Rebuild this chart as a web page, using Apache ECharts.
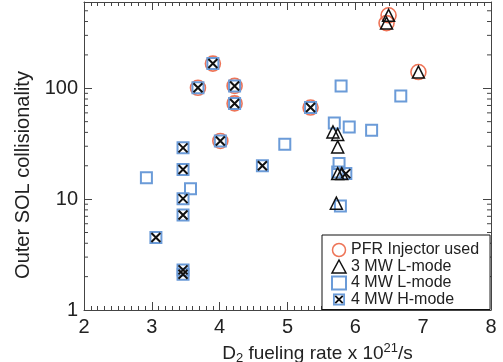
<!DOCTYPE html>
<html>
<head>
<meta charset="utf-8">
<script src="https://cdn.jsdelivr.net/npm/echarts@6/dist/echarts.min.js"></script>
<style>html,body{margin:0;padding:0;background:#fff}#c{width:503px;height:362px}</style>
</head>
<body>
<div id="c"></div>
<script>
// ---- data ----
const pfrX = [3.90, 3.68, 4.22, 4.22, 4.01, 5.34, 6.49, 6.46, 6.93];
const pfrY = [167, 101, 105, 73, 33.5, 67, 455, 387, 140];

const l3X = [6.49, 6.46, 6.93, 5.67, 5.74, 5.74, 5.74, 5.80, 5.72];
const l3Y = [455, 387, 140, 40.4, 38.3, 29.6, 17.0, 17.0, 9.2];

const l4X = [2.92, 3.57, 4.96, 5.79, 6.67, 5.69, 5.91, 6.24, 5.76, 5.74, 5.78];
const l4Y = [15.6, 12.4, 31.3, 105, 85.3, 48.7, 44.8, 41.8, 21.0, 17.6, 8.65];

const h4X = [3.90, 3.68, 4.22, 4.22, 4.01, 5.34, 3.46, 3.46, 4.63, 3.46, 3.46, 3.06, 3.46, 3.46, 5.86];
const h4Y = [167, 101, 105, 73, 33.5, 67, 29, 18.5, 20.0, 10.1, 7.2, 4.5, 2.1, 2.3, 17.0];

const xTicks = [2, 3, 4, 5, 6, 7, 8];
const yTicks = [1, 10, 100];
const yMinorTicks = [2,3,4,5,6,7,8,9,20,30,40,50,60,70,80,90,200,300,400,500];
const xMin = 2, xMax = 8, yMin = 1, yMax = 600;

const names = ['PFR Injector used', '3 MW L-mode', '4 MW L-mode', '4 MW H-mode'];
const yTitle = 'Outer SOL collisionality';

// ---- styles ----
const FONT = "'Liberation Sans', Arial, Helvetica, sans-serif";
const RED = '#ee7457', BLUE = '#6b9bd8', BLACK = '#111', AX = '#444';
const zip = (xs, ys) => xs.map((x, i) => [x, ys[i]]);

const hIcon = "image://data:image/svg+xml;utf8," + encodeURIComponent(
  "<svg xmlns='http://www.w3.org/2000/svg' width='14' height='14'>" +
  "<rect x='1.5' y='1.5' width='11' height='11' fill='none' stroke='" + BLUE + "' stroke-width='2'/>" +
  "<path d='M3,3L11,11M11,3L3,11' stroke='#111' stroke-width='2'/></svg>");

const chart = echarts.init(document.getElementById('c'), null, {renderer: 'canvas'});

const baseX = {
  type: 'value', min: xMin, max: xMax, interval: 1,
  axisLine: {show: true, onZero: false, lineStyle: {color: AX, width: 1}},
  axisTick: {show: true, inside: true, length: 8, lineStyle: {color: AX}},
  minorTick: {show: true, splitNumber: 10, length: 4, lineStyle: {color: AX}},
  splitLine: {show: false}
};
const baseY = {
  type: 'log', logBase: 10, min: yMin, max: yMax, interval: 1,
  axisLine: {show: true, onZero: false, lineStyle: {color: AX, width: 1}},
  axisTick: {show: true, inside: true, length: 8, lineStyle: {color: AX}},
  minorTick: {show: false},
  splitLine: {show: false}
};

chart.setOption({
  animation: false,
  textStyle: {fontFamily: FONT},
  grid: {left: 84, right: 12, top: 2, bottom: 52, outerBoundsMode: 'none'},
  graphic: [{
    type: 'text', x: 23.5, y: 175, rotation: Math.PI / 2, silent: true,
    style: {text: yTitle, fill: '#222', font: "20px 'Liberation Sans', Arial, sans-serif",
            align: 'center', verticalAlign: 'middle'}
  }],
  xAxis: [
    Object.assign({}, baseX, {
      position: 'bottom',
      axisLabel: {show: true, color: '#222', fontSize: 20, margin: 7, fontFamily: FONT,
        formatter: v => xTicks.includes(v) ? String(v) : ''},
      name: 'D{sub|2} fueling rate x 10{sup|21}/s',
      nameLocation: 'middle', nameGap: 31,
      nameTextStyle: {color: '#222', fontSize: 19, fontFamily: FONT, padding: [0, 0, 0, 60],
        rich: {sub: {fontSize: 13, padding: [10, 0, 0, 0], fontFamily: FONT, color: '#222'},
               sup: {fontSize: 13, padding: [0, 0, 10, 0], fontFamily: FONT, color: '#222'}}}
    }),
    Object.assign({}, baseX, {position: 'top', axisLabel: {show: false}})
  ],
  yAxis: [
    Object.assign({}, baseY, {
      position: 'left',
      axisLabel: {show: true, color: '#222', fontSize: 20, margin: 6, fontFamily: FONT,
        formatter: v => yTicks.includes(Math.round(v)) ? String(Math.round(v)) : ''}
    }),
    Object.assign({}, baseY, {position: 'right', axisLabel: {show: false}})
  ],
  legend: {
    show: true, orient: 'vertical', left: 322, top: 235,
    backgroundColor: '#fff', borderColor: '#111', borderWidth: 1,
    padding: [7, 11, 2, 9], itemGap: 0.5, itemWidth: 14, itemHeight: 13,
    textStyle: {fontSize: 16, color: '#222', fontFamily: FONT},
    selectedMode: false,
    data: [
      {name: names[0], icon: 'circle', itemStyle: {color: 'rgba(0,0,0,0)', borderColor: RED, borderWidth: 1.5}},
      {name: names[1], icon: 'triangle', itemStyle: {color: 'rgba(0,0,0,0)', borderColor: BLACK, borderWidth: 1.5}},
      {name: names[2], icon: 'rect', itemStyle: {color: 'rgba(0,0,0,0)', borderColor: BLUE, borderWidth: 2}},
      {name: names[3], icon: hIcon}
    ]
  },
  series: [
    {
      type: 'custom', name: 'yminor', silent: true, z: 1,
      data: yMinorTicks.map(v => [xMin, v]),
      renderItem: (params, api) => {
        const v = api.value(1);
        const p0 = api.coord([xMin, v]);
        const p1 = api.coord([xMax, v]);
        return {type: 'group', children: [
          {type: 'line', shape: {x1: p0[0], y1: p0[1], x2: p0[0] + 4, y2: p0[1]}, style: {stroke: AX, lineWidth: 1}},
          {type: 'line', shape: {x1: p1[0], y1: p1[1], x2: p1[0] - 4, y2: p1[1]}, style: {stroke: AX, lineWidth: 1}}
        ]};
      }
    },
    {
      type: 'scatter', name: names[0], data: zip(pfrX, pfrY), symbol: 'circle', symbolSize: 15, z: 2,
      itemStyle: {color: 'rgba(0,0,0,0)', borderColor: RED, borderWidth: 1.6, opacity: 1}
    },
    {
      type: 'scatter', name: 'h4sq', data: zip(h4X, h4Y), symbol: 'rect', symbolSize: 11, z: 3,
      itemStyle: {color: 'rgba(0,0,0,0)', borderColor: BLUE, borderWidth: 2, opacity: 1}
    },
    {
      type: 'scatter', name: names[2], data: zip(l4X, l4Y), symbol: 'rect', symbolSize: 11, z: 3,
      itemStyle: {color: 'rgba(0,0,0,0)', borderColor: BLUE, borderWidth: 2, opacity: 1}
    },
    {
      type: 'scatter', name: names[1], data: zip(l3X, l3Y), symbol: 'triangle', symbolSize: 12, z: 4,
      itemStyle: {color: 'rgba(0,0,0,0)', borderColor: BLACK, borderWidth: 1.5, opacity: 1}
    },
    {
      type: 'scatter', name: names[3], data: zip(h4X, h4Y), symbol: 'path://M0,0L10,10M10,0L0,10', symbolSize: 9, z: 5,
      itemStyle: {color: 'rgba(0,0,0,0)', borderColor: BLACK, borderWidth: 2, opacity: 1}
    }
  ]
});
</script>
</body>
</html>
